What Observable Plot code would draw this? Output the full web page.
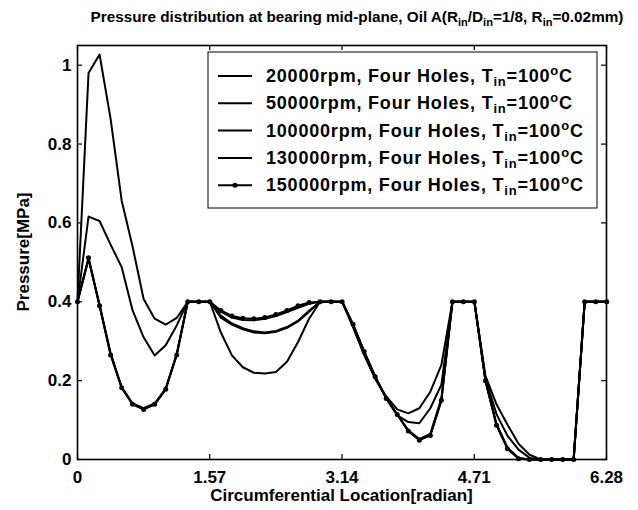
<!DOCTYPE html>
<html><head><meta charset="utf-8">
<script src="https://cdn.jsdelivr.net/npm/d3@7"></script>
<script src="https://cdn.jsdelivr.net/npm/@observablehq/plot@0.6"></script>
<style>body{margin:0;background:#fff} svg{display:block}</style>
</head><body><div id="chart"></div>
<script>
// circumferential grid (radian)
const theta = [0,0.131,0.262,0.393,0.524,0.654,0.785,0.916,1.047,1.178,1.309,1.440,1.571,
  1.702,1.833,1.963,2.094,2.225,2.356,2.487,2.618,2.749,2.880,3.011,3.142,
  3.272,3.403,3.534,3.665,3.796,3.927,4.058,4.189,4.320,4.451,4.581,4.712,
  4.843,4.974,5.105,5.236,5.367,5.498,5.629,5.760,5.890,6.021,6.152,6.283];
// pressure [MPa]
const p20000 = [0.40,0.98,1.027,0.864,0.657,0.54,0.407,0.357,0.342,0.359,0.40,0.40,0.40,
  0.322,0.264,0.234,0.220,0.218,0.222,0.248,0.298,0.357,0.40,0.40,0.40,
  0.335,0.265,0.205,0.160,0.127,0.117,0.130,0.172,0.240,0.40,0.40,0.40,
  0.212,0.140,0.088,0.040,0.012,0,0,0,0,0.40,0.40,0.40];
const p50000 = [0.40,0.616,0.605,0.545,0.488,0.378,0.310,0.264,0.290,0.340,0.40,0.40,0.40,
  0.365,0.345,0.333,0.325,0.322,0.326,0.336,0.352,0.377,0.40,0.40,0.40,
  0.337,0.268,0.206,0.155,0.112,0.095,0.092,0.130,0.190,0.40,0.40,0.40,
  0.205,0.115,0.060,0.025,0.004,0,0,0,0,0.40,0.40,0.40];
const p100000 = [0.40,0.510,0.392,0.270,0.184,0.142,0.130,0.142,0.180,0.268,0.40,0.40,0.40,
  0.360,0.342,0.330,0.322,0.320,0.324,0.334,0.350,0.375,0.40,0.40,0.40,
  0.340,0.272,0.210,0.156,0.114,0.074,0.052,0.065,0.155,0.40,0.40,0.40,
  0.200,0.090,0.030,0.004,0,0,0,0,0,0.40,0.40,0.40];
const p130000 = [0.40,0.508,0.390,0.267,0.182,0.140,0.128,0.140,0.178,0.266,0.40,0.40,0.40,
  0.375,0.360,0.354,0.353,0.357,0.364,0.374,0.385,0.395,0.40,0.40,0.40,
  0.342,0.274,0.210,0.156,0.114,0.073,0.050,0.062,0.150,0.40,0.40,0.40,
  0.200,0.088,0.028,0.003,0,0,0,0,0,0.40,0.40,0.40];
const p150000 = [0.40,0.512,0.390,0.265,0.182,0.140,0.127,0.140,0.178,0.265,0.40,0.40,0.40,
  0.378,0.364,0.358,0.357,0.360,0.368,0.378,0.390,0.398,0.40,0.40,0.40,
  0.343,0.274,0.210,0.155,0.114,0.072,0.049,0.061,0.150,0.40,0.40,0.40,
  0.200,0.087,0.027,0.002,0,0,0,0,0,0.40,0.40,0.40];
const seriesLabels = ["20000rpm","50000rpm","100000rpm","130000rpm","150000rpm"];
const xTicks = [0,1.57,3.14,4.71,6.28];
const yTicks = [0,0.2,0.4,0.6,0.8,1];

const allSeries = [p20000,p50000,p100000,p130000,p150000];
const rows = allSeries.flatMap((arr,i)=>arr.map((p,k)=>({theta:theta[k],p,s:seriesLabels[i]})));
const marked = rows.filter(d=>d.s===seriesLabels[4]);

const W=638,H=510,mL=77,mR=32,mT=45,mB=51;
const xMax=6.28,yMax=1.05;
const tx = 5/((W-mL-mR)/xMax), ty = 5/((H-mT-mB)/yMax);
const FONT = "'Liberation Sans', Arial, Helvetica, sans-serif";

const chart = Plot.plot({
  width:W,height:H,marginLeft:mL,marginRight:mR,marginTop:mT,marginBottom:mB,
  style:{fontFamily:FONT,fontWeight:"bold",background:"white",color:"black",overflow:"visible"},
  x:{domain:[0,xMax]}, y:{domain:[0,yMax]},
  marks:[
    Plot.axisX(xTicks,{tickSize:0,tickPadding:11,fontSize:17,tickFormat:d=>String(d),label:null}),
    Plot.axisY(yTicks,{tickSize:0,tickPadding:6,fontSize:17,tickFormat:d=>String(d),label:null}),
    Plot.ruleX(xTicks,{x:d=>d,y1:0,y2:ty,stroke:"black",strokeWidth:1.2}),
    Plot.ruleX(xTicks,{x:d=>d,y1:yMax-ty,y2:yMax,stroke:"black",strokeWidth:1.2}),
    Plot.ruleY(yTicks,{y:d=>d,x1:0,x2:tx,stroke:"black",strokeWidth:1.2}),
    Plot.ruleY(yTicks,{y:d=>d,x1:xMax-tx,x2:xMax,stroke:"black",strokeWidth:1.2}),
    Plot.line(rows,{x:"theta",y:"p",z:"s",stroke:"black",strokeWidth:2}),
    Plot.dot(marked,{x:"theta",y:"p",r:2.5,fill:"black",stroke:"none"}),
    Plot.frame({stroke:"black",strokeWidth:1.6})
  ]
});
document.getElementById("chart").appendChild(chart);

const svg = d3.select(chart);
function addRich(el, parts){
  parts.forEach(([s,kind])=>{
    const ts = el.append("tspan").text(s);
    if(kind==="sub"){ts.attr("dy",4).attr("font-size","72%");}
    else if(kind==="sup"){ts.attr("dy",-7).attr("font-size","72%");}
    else if(kind==="back"){ts.attr("dy",-4);}
    else if(kind==="down"){ts.attr("dy",7);}
  });
}
// title
const t = svg.append("text").attr("x",357).attr("y",22).attr("text-anchor","middle")
  .attr("font-family",FONT).attr("font-weight","bold").attr("font-size",15.3).attr("fill","black");
addRich(t,[["Pressure distribution at bearing mid-plane, Oil A(R"],["in","sub"],["/D","back"],["in","sub"],["=1/8, R","back"],["in","sub"],["=0.02mm)","back"]]);

// axis labels
svg.append("text").attr("x",(mL+W-mR)/2).attr("y",501).attr("text-anchor","middle")
  .attr("font-family",FONT).attr("font-weight","bold").attr("font-size",17).attr("fill","black")
  .text("Circumferential Location[radian]");
svg.append("text").attr("transform",`translate(29,${(mT+H-mB)/2}) rotate(-90)`).attr("text-anchor","middle")
  .attr("font-family",FONT).attr("font-weight","bold").attr("font-size",17).attr("fill","black")
  .text("Pressure[MPa]");

// legend
const lg = svg.append("g");
lg.append("rect").attr("x",208).attr("y",52).attr("width",389).attr("height",156)
  .attr("fill","white").attr("stroke","black").attr("stroke-width",1);
seriesLabels.forEach((lab,i)=>{
  const y = 76 + i*27.3;
  lg.append("line").attr("x1",218).attr("x2",252).attr("y1",y).attr("y2",y)
    .attr("stroke","black").attr("stroke-width",2);
  if(i===4) lg.append("circle").attr("cx",235).attr("cy",y).attr("r",2.5).attr("fill","black");
  const tx2 = lg.append("text").attr("x",266).attr("y",y+6).attr("text-anchor","start")
    .attr("font-family",FONT).attr("font-weight","bold").attr("font-size",18)
    .attr("letter-spacing",0.8).attr("fill","black");
  addRich(tx2,[[lab+", Four Holes, T"],["in","sub"],["=100","back"],["o","sup"],["C","down"]]);
});
</script></body></html>
